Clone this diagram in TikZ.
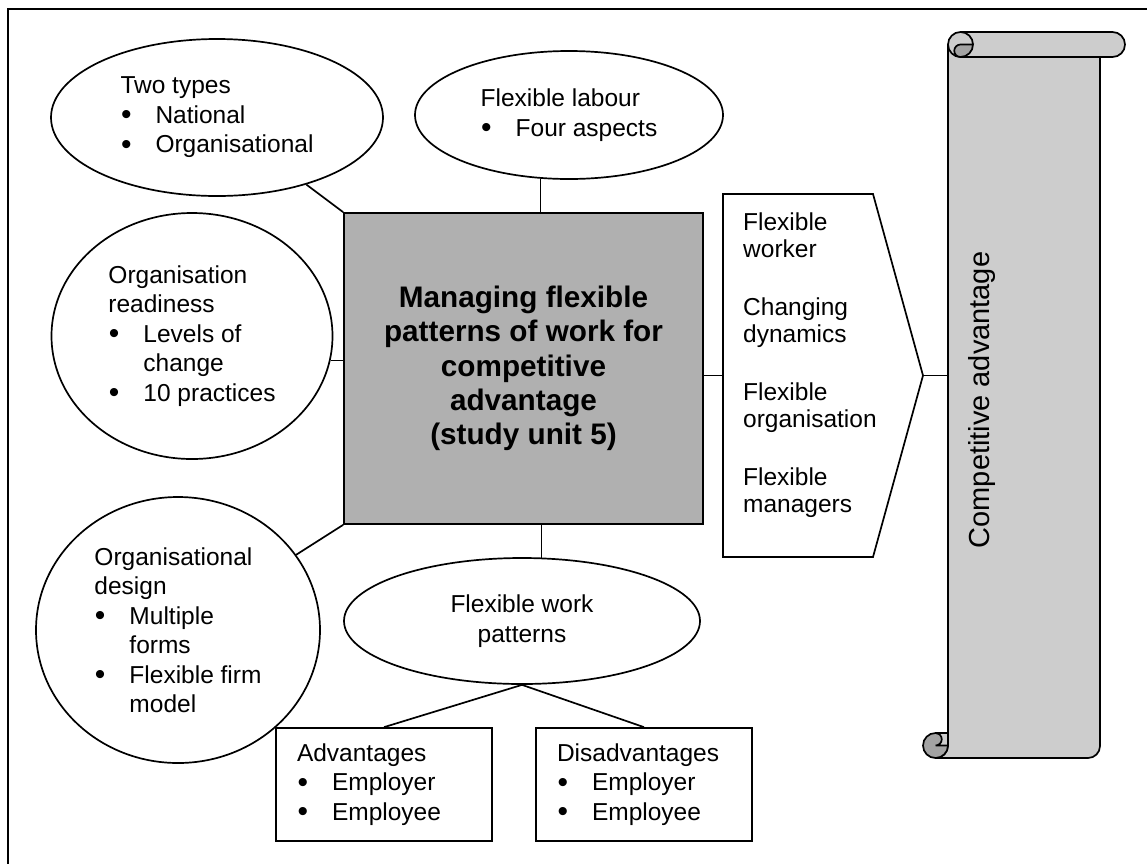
\documentclass[tikz,border=0pt]{standalone}
\usepackage{fontspec}
\setmainfont{Liberation Sans}
\usepackage{xcolor}
\usepackage{tikz}
\usetikzlibrary{shapes.geometric, calc}
\definecolor{boxgray}{HTML}{B0B0B0}
\definecolor{scrollgray}{HTML}{CDCDCD}
\definecolor{curlgray}{HTML}{A3A3A3}
\newcommand{\bodytext}{\fontsize{24.5}{29.5}\selectfont}
\newcommand{\maintext}{\fontsize{29.7}{34.3}\selectfont\bfseries}
\newcommand{\scrolltext}{\fontsize{29}{34}\selectfont}
\newcommand{\bulitem}[1]{\makebox[35pt][l]{\hspace{0.5pt}\raisebox{-1.5pt}{\fontsize{30}{30}\selectfont\textbullet}}#1}
\newcommand{\contline}{\hspace*{35pt}}
\tikzstyle{bubble} = [ellipse, draw=black, line width=1.7pt, fill=white, inner sep=0pt, align=left, font=\bodytext]
\tikzstyle{mainbox} = [rectangle, draw=black, line width=1.7pt, fill=boxgray, minimum width=359pt, minimum height=311pt, align=center, font=\maintext]
\tikzstyle{listbox} = [rectangle, draw=black, line width=1.7pt, minimum width=216pt, minimum height=113pt, text width=174pt, inner xsep=21pt, align=left, font=\bodytext]
\tikzstyle{line} = [line width=1.7pt]

\begin{document}
\begin{tikzpicture}[x=1pt, y=-1pt]
\useasboundingbox (0,0) rectangle (1147,863);
\draw [line] (8,870) -- (8,9) -- (1150,9);

\node (main) [mainbox] at (523.5,368.5) {Managing flexible\\patterns of work for\\competitive\\advantage\\(study unit 5)};

\node (types) [bubble, minimum width=332pt, minimum height=157pt] at (217,117.5) {Two types\\\bulitem{National}\\\bulitem{Organisational}};
\node (labour) [bubble, minimum width=308pt, minimum height=128pt] at (569,115) {Flexible labour\\\bulitem{Four aspects}};
\node (ready) [bubble, minimum width=281pt, minimum height=246pt] at (192,336) {Organisation\\readiness\\\bulitem{Levels of}\\\contline change\\\bulitem{10 practices}};
\node (design) [bubble, minimum width=284pt, minimum height=266pt] at (178,630) {Organisational\\design\\\bulitem{Multiple}\\\contline forms\\\bulitem{Flexible firm}\\\contline model};
\node (patterns) [bubble, align=center, minimum width=356pt, minimum height=126pt] at (522,621) {Flexible work\\patterns};
\node (adv) [listbox] at (384,784.5) {Advantages\\\bulitem{Employer}\\\bulitem{Employee}};
\node (disadv) [listbox] at (644,784.5) {Disadvantages\\\bulitem{Employer}\\\bulitem{Employee}};

% arrow shape
\draw [line] (723,194) -- (873,194) -- (923,375.5) coordinate (tip) -- (873,557) -- (723,557) -- cycle;
\node (flex) [anchor=west, align=left, inner xsep=20pt, font=\fontsize{24.5}{27}\selectfont] at (723,365) {Flexible\\worker\\[31pt]Changing\\dynamics\\[31pt]Flexible\\organisation\\[31pt]Flexible\\managers};

% scroll
\draw [line, fill=scrollgray] (948,44.5) -- (948,745.5) arc[start angle=0, end angle=90, radius=12.5] -- (1088,758) arc[start angle=90, end angle=0, radius=12] -- (1100,44.5) -- cycle;
\draw [line, fill=scrollgray, rounded corners=12.5] (948,32) rectangle (1125,57);
\draw [line, fill=curlgray] (973,44.5) arc[start angle=0, end angle=90, radius=12.5] arc[start angle=90, end angle=270, radius=6.25] -- cycle;
\draw [line] (960.5,32) arc[start angle=270, end angle=360, radius=12.5];
\draw [line, fill=curlgray] (935.5,745.5) circle[radius=12.5];
\draw [line, fill=scrollgray] (935.5,745.5) -- (948,745.5) -- (948,733) -- (935.5,733) arc[start angle=270, end angle=450, radius=6.25];
\path (948,44.5) coordinate (scrolltl);
\node (cadv) [rotate=90, font=\scrolltext] at (982,400) {Competitive advantage};

% connectors
\draw [line] (types) -- (main.north west);
\draw [line] (labour.246) -- (labour.246 |- main.north);
\draw [line] (ready.-10.3) -- (ready.-10.3 -| main.west);
\draw [line] (design) -- (main.south west);
\draw [line] (patterns.73) -- (patterns.73 |- main.south);
\draw [line] (patterns.south) -- (adv.north);
\draw [line] (patterns.south) -- (disadv.north);
\draw [line] (main.east |- tip) -- (tip -| flex.west);
\draw [line] (tip) -- (tip -| scrolltl);

\end{tikzpicture}
\end{document}
